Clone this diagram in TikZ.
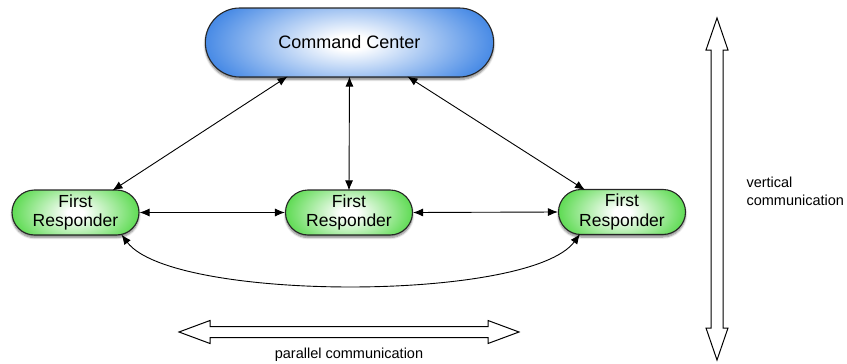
\documentclass[tikz,border=0pt]{standalone}
\usepackage{fontspec}
\setmainfont{Liberation Sans}
\usetikzlibrary{shapes.misc,arrows.meta,calc,shadows.blur}
\definecolor{ccblue}{RGB}{62,132,228}
\definecolor{frgreen}{RGB}{82,216,70}
\pgfdeclareradialshading{ccshade}{\pgfpoint{0bp}{0bp}}{color(0bp)=(white); color(3bp)=(white); color(25bp)=(ccblue); color(50bp)=(ccblue)}
\pgfdeclareradialshading{frshade}{\pgfpoint{0bp}{0bp}}{color(0bp)=(white); color(3bp)=(white); color(25bp)=(frgreen); color(50bp)=(frgreen)}
\begin{document}
\begin{tikzpicture}[x=1pt,y=-1pt,
  ccbox/.style={rounded rectangle, draw=black!85, line width=1.1pt,
    minimum width=295pt, minimum height=69pt, fill=ccblue,
    path picture={\shade[shading=ccshade] (path picture bounding box.center) ellipse (152pt and 62pt);},
    blur shadow={shadow xshift=0pt, shadow yshift=-2.5pt, shadow blur steps=6, shadow opacity=50},
    font=\fontsize{18}{20}\selectfont},
  frbox/.style={rounded rectangle, draw=black!85, line width=1.1pt,
    minimum width=129pt, minimum height=45pt, inner sep=1pt, align=center,
    fill=frgreen,
    path picture={\shade[shading=frshade] (path picture bounding box.center) ellipse (68pt and 40pt);},
    blur shadow={shadow xshift=0pt, shadow yshift=-2.5pt, shadow blur steps=6, shadow opacity=50},
    font=\fontsize{17.5}{19.5}\selectfont},
  link/.style={line width=0.9pt, {Latex[length=10pt,width=8pt]}-{Latex[length=10pt,width=8pt]}},
  bigarrow/.style={draw=black, line width=1pt, fill=white, line join=miter},
  note/.style={font=\fontsize{14.5}{18}\selectfont, align=left}
]
\useasboundingbox (0,0) rectangle (847,364);

\node[ccbox] (cc) at (349.5,42.5) {Command Center};
\node[frbox] (l) at (75.5,212.5) {First\\Responder};
\node[frbox] (m) at (349,212.5) {First\\Responder};
\node[frbox] (r) at (622,212) {First\\Responder};

\draw[link] ($(cc.south)+(-62,-1)$) -- ($(l.north)+(37,1)$);
\draw[link] ($(cc.south)+(0,-1)$) -- ($(m.north)+(0,1)$);
\draw[link] ($(cc.south)+(58,-1)$) -- ($(r.north)+(-37,1)$);
\draw[link] (l.east) -- (m.west);
\draw[link] (m.east) -- (r.west);
\draw[link] ($(l.south)+(46,-1)$) .. controls (172,302) and (530,302) .. ($(r.south)+(-42,-1)$);

% vertical big arrow
\draw[bigarrow] (717,18) -- (728,50) -- (723,50) -- (723,328) -- (728,328) -- (717,360)
  -- (706,328) -- (711,328) -- (711,50) -- (706,50) -- cycle;
\node[note, anchor=west] (vt) at (743,191) {vertical\\communication};

% horizontal big arrow
\draw[bigarrow] (179,332) -- (210,320.5) -- (210,326.5) -- (488,326.5) -- (488,320.5) -- (519,332)
  -- (488,343.5) -- (488,337.5) -- (210,337.5) -- (210,343.5) -- cycle;
\node[note] (ht) at (349,355) {parallel communication};
\end{tikzpicture}
\end{document}
